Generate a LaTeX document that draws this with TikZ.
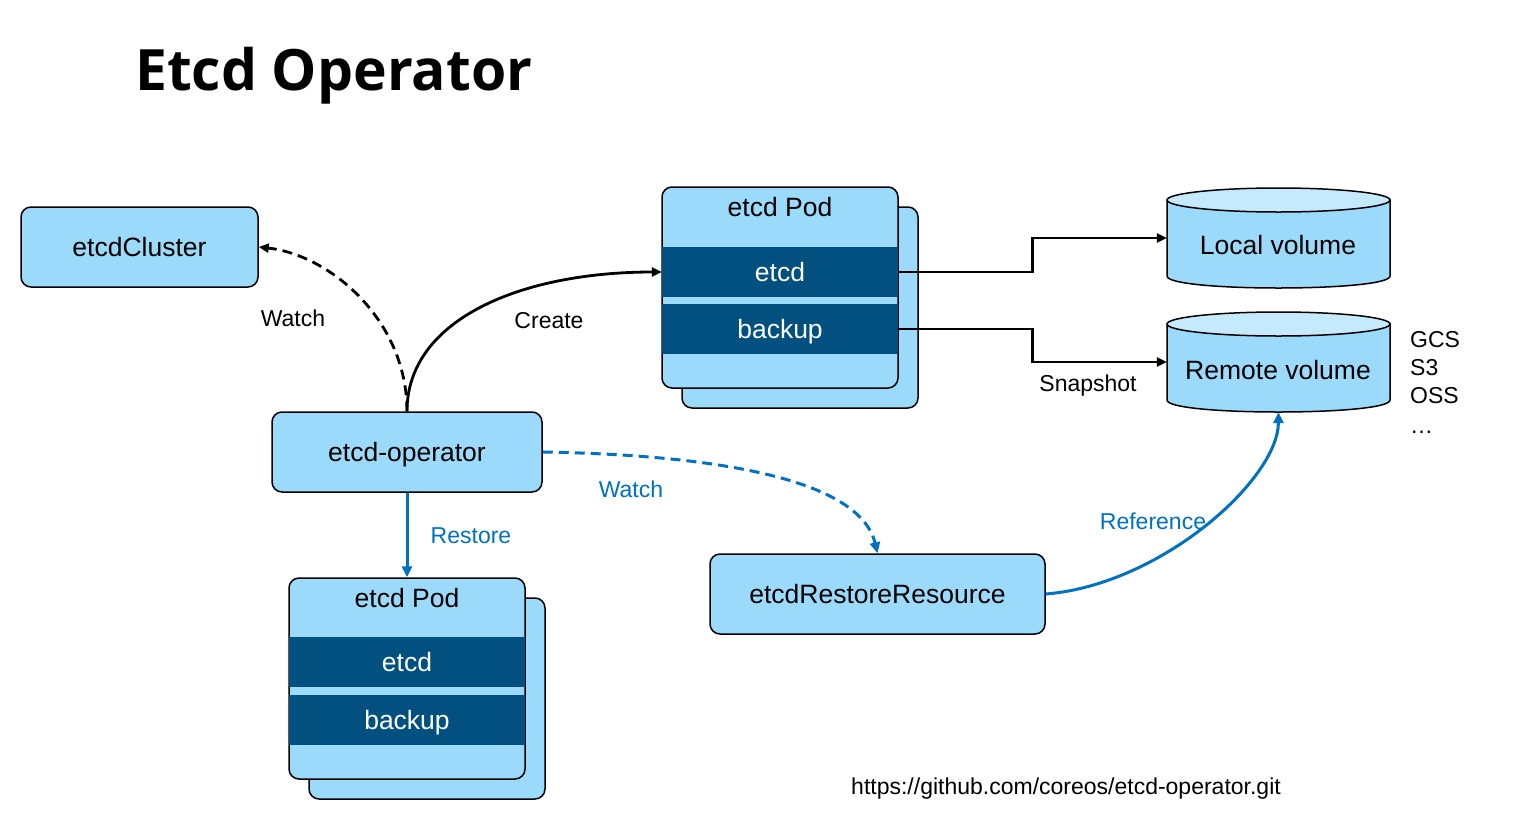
\documentclass[tikz,border=0pt]{standalone}
\usepackage{graphicx}
\usepackage{fontspec}
\setmainfont{Liberation Sans}
\newfontfamily\titlefont{Open Sans}
\usetikzlibrary{arrows.meta,calc}
\definecolor{lblue}{RGB}{155,218,250}
\definecolor{ltop}{RGB}{198,234,253}
\definecolor{dband}{RGB}{2,80,127}
\definecolor{mblue}{RGB}{0,112,192}
\begin{document}
\begin{tikzpicture}[x=1pt,y=-1pt,
  bx/.style={draw=black,line width=1.5pt,fill=lblue,rounded corners=10pt,inner sep=0pt,text height=19pt,text depth=0pt,font=\fontsize{26.5}{30}\selectfont},
  band/.style={fill=dband,inner sep=0pt,minimum width=236pt,minimum height=50pt,text=white,text height=19pt,text depth=0pt,font=\fontsize{26.5}{30}\selectfont},
  big/.style={inner sep=0pt,text height=19pt,text depth=0pt,font=\fontsize{26.5}{30}\selectfont},
  lbl/.style={font=\fontsize{23}{27}\selectfont,inner sep=0pt,text height=16.5pt,text depth=0pt},
  blbl/.style={lbl,text=mblue},
  conn/.style={line width=2.8pt,-{Triangle[length=10pt,width=9pt]}},
  bconn/.style={line width=3pt,draw=mblue,-{Triangle[length=11pt,width=10pt]}},
  dsh/.style={dash pattern=on 10pt off 6pt},
  cyl/.style={line width=1.5pt,draw=black},
  anchorbox/.style={inner sep=0pt,minimum width=223pt,minimum height=100pt}
]
\useasboundingbox (0,0) rectangle (1513,839);

% title
\node[anchor=base west,inner sep=0pt] (title) at (135,90) {\resizebox{397pt}{!}{\titlefont\fontsize{48}{56}\selectfont\bfseries Etcd Operator}};

% boxes
\node[bx,minimum width=237pt,minimum height=80pt] (cluster) at (139.5,247) {etcdCluster};
\node[bx,minimum width=270pt,minimum height=80pt] (op) at (407,452) {etcd-operator};
\node[bx,minimum width=335pt,minimum height=80pt] (rr) at (877.5,594) {etcdRestoreResource};

% pod A
\node[bx,minimum width=236pt,minimum height=201pt] (podAback) at (800,307.5) {};
\node[bx,minimum width=236pt,minimum height=201pt] (podA) at (780,287.5) {};
\node[big] (podAlabel) at (780,207) {etcd Pod};
\node[band] (etcdA) at (780,272) {etcd};
\node[band] (backupA) at (780,329) {backup};

% pod B
\node[bx,minimum width=236pt,minimum height=201pt] (podBback) at (427,698.5) {};
\node[bx,minimum width=236pt,minimum height=201pt] (podB) at (407,678.5) {};
\node[big] (podBlabel) at (407,598) {etcd Pod};
\node[band] (etcdB) at (407,662) {etcd};
\node[band] (backupB) at (407,719.5) {backup};

% cylinders
\node[anchorbox] (local) at (1278.5,238) {};
\draw[cyl,fill=lblue] (1167,200) -- (1167,276) .. controls (1167,292) and (1390,292) .. (1390,276) -- (1390,200) -- cycle;
\draw[cyl,fill=ltop] (1278.5,200) ellipse [x radius=111.5,y radius=12];
\node[big] (localtext) at (1278,245) {Local volume};

\node[anchorbox] (remote) at (1278.5,362) {};
\draw[cyl,fill=lblue] (1167,324) -- (1167,400) .. controls (1167,416) and (1390,416) .. (1390,400) -- (1390,324) -- cycle;
\draw[cyl,fill=ltop] (1278.5,324) ellipse [x radius=111.5,y radius=12];
\node[big] (remotetext) at (1278,370) {Remote volume};

% connectors
\draw[conn] (op.north) .. controls (407,320) and (520,272) .. (etcdA.west);
\draw[conn,dsh] (op.north) .. controls (407,320) and (330,255) .. (cluster.east);
\draw[conn] (etcdA.east) -- ++(134,0) |- (local.west);
\draw[conn] (backupA.east) -- ++(134,0) |- (remote.west);
\draw[bconn] (op.south) -- (podB.north);
\draw[bconn,dsh] (op.east) .. controls (720,455) and (860,480) .. (rr.north);
\draw[bconn] (rr.east) .. controls (1160,585) and (1278,480) .. (remote.south);

% labels
\node[lbl] (wlab) at (293,318) {Watch};
\node[lbl] (clab) at (549,320) {Create};
\node[blbl] (wblab) at (631,489) {Watch};
\node[blbl] (rlab) at (471,535) {Restore};
\node[blbl] (reflab) at (1153,521) {Reference};
\node[lbl] (snap) at (1088,383) {Snapshot};
\node[lbl,anchor=west] (gcs) at (1410,339) {GCS};
\node[lbl,anchor=west] (s3) at (1410,367) {S3};
\node[lbl,anchor=west] (oss) at (1410,395) {OSS};
\node[lbl,anchor=base west] (dots) at (1410,433) {…};
\node[lbl] (url) at (1066,786) {https://github.com/coreos/etcd-operator.git};
\end{tikzpicture}
\end{document}
